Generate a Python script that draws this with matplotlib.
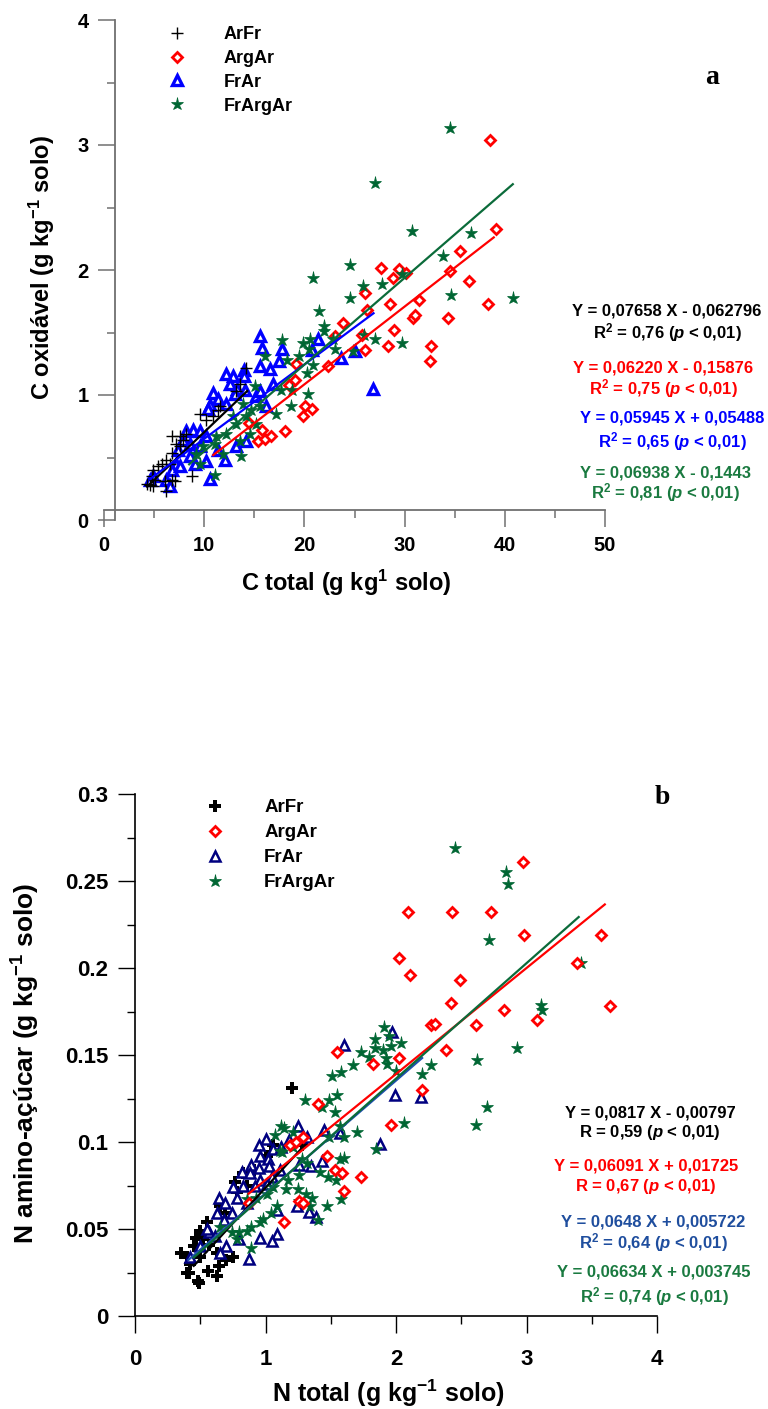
import matplotlib
matplotlib.use('Agg')
import numpy as np
import matplotlib.pyplot as plt
from matplotlib.ticker import MultipleLocator, FuncFormatter

plt.rcParams['font.family'] = ['Liberation Sans', 'DejaVu Sans']
plt.rcParams['font.weight'] = 'bold'
plt.rcParams['axes.labelweight'] = 'bold'
plt.rcParams['mathtext.fontset'] = 'custom'
plt.rcParams['mathtext.rm'] = 'Liberation Sans:bold'
plt.rcParams['mathtext.bf'] = 'Liberation Sans:bold'
plt.rcParams['mathtext.it'] = 'Liberation Sans:bold:italic'

grupos = ['ArFr', 'ArgAr', 'FrAr', 'FrArgAr']

# ---------------- painel a: C total x C oxidavel ----------------
a_arfr_x = [14.2, 13.6, 13.2, 11.4, 10.9, 10.2, 9.6, 11.6, 6.8, 7.6, 7.9, 8.2, 7.2, 6.8, 7.6,
            6.2, 5.8, 5.4, 4.9, 4.8, 5.1, 4.3, 4.6, 4.9, 6.1, 6.8, 7.1, 8.8, 6.2, 6.6]
a_arfr_y = [1.22, 1.09, 1.03, 0.88, 0.83, 0.80, 0.85, 0.91, 0.67, 0.67, 0.64, 0.69, 0.61, 0.54, 0.59,
            0.48, 0.45, 0.43, 0.40, 0.35, 0.32, 0.29, 0.28, 0.27, 0.31, 0.32, 0.31, 0.35, 0.23, 0.45]

a_argar_x = [27.6, 29.4, 28.8, 30.1, 35.5, 34.5, 36.4, 38.3, 31.4, 28.5, 30.8, 31.0, 34.3, 28.9, 28.3,
             32.6, 32.5, 26.0, 26.2, 26.0, 23.9, 23.1, 25.7, 22.4, 19.2, 19.1, 18.5, 20.1, 20.8, 19.9,
             18.1, 15.8, 15.4, 16.1, 16.7, 14.5, 38.5, 39.1]
a_argar_y = [2.02, 2.01, 1.94, 1.98, 2.15, 1.99, 1.91, 1.73, 1.76, 1.73, 1.62, 1.64, 1.62, 1.52, 1.39,
             1.39, 1.27, 1.82, 1.68, 1.36, 1.58, 1.47, 1.48, 1.23, 1.25, 1.12, 1.08, 0.91, 0.89, 0.83,
             0.71, 0.72, 0.63, 0.65, 0.67, 0.78, 3.04, 2.33]

a_frar_x = [15.6, 15.8, 17.8, 21.4, 20.8, 23.7, 25.0, 26.8, 15.6, 16.6, 17.5, 12.2, 12.9, 14.0, 14.0,
            12.6, 13.3, 13.1, 14.1, 10.9, 11.4, 10.6, 10.4, 12.2, 15.2, 15.6, 16.9, 16.2, 8.2, 8.9,
            9.6, 7.9, 7.4, 8.6, 9.6, 10.2, 8.6, 9.1, 7.2, 6.8, 6.2, 6.6, 4.9, 4.6, 7.6, 10.2, 10.6,
            13.2, 14.2, 12.1, 11.4]
a_frar_y = [1.47, 1.38, 1.37, 1.45, 1.36, 1.30, 1.35, 1.05, 1.23, 1.21, 1.27, 1.17, 1.15, 1.20, 1.15,
            1.09, 1.05, 1.01, 1.04, 1.02, 0.97, 0.92, 0.89, 0.93, 0.99, 1.03, 1.09, 0.91, 0.71, 0.72,
            0.71, 0.64, 0.56, 0.61, 0.59, 0.67, 0.51, 0.45, 0.45, 0.40, 0.32, 0.27, 0.35, 0.32, 0.43,
            0.47, 0.33, 0.59, 0.63, 0.48, 0.56]

a_frargar_x = [24.6, 20.9, 25.8, 27.7, 24.6, 33.8, 34.6, 40.8, 29.7, 21.5, 22.0, 22.0, 17.8, 16.1, 19.9,
               20.6, 20.5, 22.9, 23.1, 25.9, 27.0, 29.7, 24.9, 18.3, 19.5, 20.9, 20.3, 15.1, 17.7, 18.8,
               20.4, 18.7, 17.2, 13.9, 14.7, 15.6, 13.2, 14.2, 12.9, 15.2, 14.6, 13.6, 12.2, 11.2, 11.1,
               9.9, 9.2, 11.9, 13.7, 11.1, 9.6, 34.5, 27.0, 30.7, 36.6]
a_frargar_y = [2.04, 1.94, 1.87, 1.89, 1.78, 2.11, 1.80, 1.78, 1.97, 1.67, 1.55, 1.51, 1.44, 1.31, 1.42,
               1.45, 1.37, 1.45, 1.37, 1.48, 1.45, 1.42, 1.35, 1.28, 1.31, 1.24, 1.18, 1.07, 1.04, 1.04,
               1.01, 0.91, 0.85, 0.93, 0.88, 0.91, 0.77, 0.83, 0.83, 0.77, 0.69, 0.63, 0.69, 0.67, 0.61,
               0.59, 0.53, 0.53, 0.51, 0.36, 0.45, 3.14, 2.70, 2.31, 2.30]

# regressoes (inclinacao, intercepto, x inicial, x final)
a_coef = [0.07658, 0.06220, 0.05945, 0.06938]
a_inter = [-0.062796, -0.15876, 0.05488, -0.1443]
a_xini = [4.3, 10.9, 4.6, 8.5]
a_xfim = [14.3, 38.9, 26.9, 40.8]
a_eq = ['Y = 0,07658 X - 0,062796', 'Y = 0,06220 X - 0,15876',
        'Y = 0,05945 X + 0,05488', 'Y = 0,06938 X - 0,1443']
a_r = [r'R$^{\mathrm{2}}$ = 0,76 ($\mathit{p}$ < 0,01)', r'R$^{\mathrm{2}}$ = 0,75 ($\mathit{p}$ < 0,01)',
       r'R$^{\mathrm{2}}$ = 0,65 ($\mathit{p}$ < 0,01)', r'R$^{\mathrm{2}}$ = 0,81 ($\mathit{p}$ < 0,01)']

# ---------------- painel b: N total x N amino-acucar ----------------
b_arfr_x = [1.20, 1.28, 1.06, 1.04, 1.00, 0.91, 0.83, 0.77, 0.78, 0.86, 0.65, 0.69, 0.55, 0.47, 0.52,
            0.45, 0.57, 0.63, 0.50, 0.40, 0.41, 0.49, 0.56, 0.63, 0.70, 0.75, 0.64, 0.42, 0.35, 0.50,
            0.48, 0.40]
b_arfr_y = [0.131, 0.098, 0.098, 0.094, 0.092, 0.084, 0.082, 0.077, 0.071, 0.075, 0.063, 0.059, 0.054,
            0.045, 0.044, 0.040, 0.041, 0.036, 0.034, 0.034, 0.025, 0.019, 0.026, 0.023, 0.032, 0.034,
            0.029, 0.030, 0.036, 0.049, 0.020, 0.025]

b_argar_x = [2.42, 2.27, 2.30, 2.61, 2.83, 3.08, 2.38, 2.20, 1.55, 1.82, 2.02, 1.40, 1.96, 1.19, 1.23,
             1.29, 1.47, 1.53, 1.59, 1.73, 1.60, 1.26, 1.29, 1.14, 0.87, 2.97, 2.98, 2.73, 2.43, 2.09,
             2.02, 2.11, 2.49, 3.57, 3.64, 3.39]
b_argar_y = [0.180, 0.167, 0.168, 0.167, 0.176, 0.170, 0.153, 0.130, 0.152, 0.145, 0.148, 0.122, 0.110,
             0.098, 0.100, 0.103, 0.092, 0.084, 0.082, 0.080, 0.072, 0.066, 0.065, 0.054, 0.065, 0.261,
             0.219, 0.232, 0.232, 0.232, 0.206, 0.196, 0.193, 0.219, 0.178, 0.203]

b_frar_x = [1.60, 1.97, 1.99, 2.19, 1.88, 1.25, 1.32, 1.45, 1.57, 1.43, 1.00, 0.95, 1.06, 1.12, 1.18,
            0.96, 1.02, 0.89, 0.82, 0.88, 0.95, 1.03, 1.11, 1.05, 0.96, 0.83, 0.92, 1.01, 0.75, 0.78,
            0.86, 0.64, 0.69, 0.63, 0.74, 0.68, 0.57, 0.55, 0.61, 0.70, 0.80, 0.87, 0.96, 1.09, 1.05,
            1.09, 1.26, 1.24, 1.33, 1.39, 1.35, 0.65, 0.50, 0.42]
b_frar_y = [0.156, 0.163, 0.127, 0.126, 0.099, 0.109, 0.103, 0.107, 0.105, 0.089, 0.102, 0.098, 0.096,
            0.097, 0.101, 0.092, 0.090, 0.087, 0.083, 0.082, 0.085, 0.086, 0.084, 0.080, 0.078, 0.075,
            0.075, 0.076, 0.074, 0.068, 0.065, 0.068, 0.065, 0.059, 0.059, 0.055, 0.048, 0.050, 0.046,
            0.040, 0.044, 0.033, 0.045, 0.047, 0.043, 0.061, 0.087, 0.063, 0.060, 0.057, 0.086, 0.036,
            0.040, 0.034]

b_frargar_x = [3.12, 2.93, 2.62, 2.70, 2.61, 2.20, 2.27, 2.06, 1.91, 1.84, 1.95, 2.04, 1.90, 1.84, 1.96,
               1.73, 1.79, 1.92, 1.93, 2.00, 1.67, 1.58, 1.51, 1.30, 1.43, 1.49, 1.55, 1.53, 1.70, 1.57,
               1.60, 1.49, 1.85, 1.12, 1.07, 1.14, 1.21, 1.11, 1.13, 1.28, 1.32, 1.21, 1.60, 1.57, 1.42,
               1.48, 1.54, 1.58, 1.47, 1.40, 1.26, 1.17, 1.25, 1.31, 1.36, 1.26, 1.34, 1.16, 1.09, 1.04,
               0.98, 0.96, 0.89, 0.86, 0.80, 0.74, 0.65, 0.78, 0.89, 1.01, 1.06, 0.93, 0.86, 2.45, 2.84,
               2.86, 2.71, 3.42, 3.11]
b_frargar_y = [0.176, 0.154, 0.147, 0.120, 0.110, 0.139, 0.144, 0.111, 0.166, 0.159, 0.161, 0.157, 0.153,
               0.154, 0.155, 0.152, 0.149, 0.148, 0.145, 0.141, 0.144, 0.140, 0.138, 0.124, 0.120, 0.124,
               0.127, 0.117, 0.106, 0.109, 0.103, 0.103, 0.096, 0.109, 0.104, 0.108, 0.106, 0.095, 0.094,
               0.090, 0.088, 0.097, 0.091, 0.090, 0.083, 0.080, 0.078, 0.067, 0.063, 0.055, 0.081, 0.078,
               0.073, 0.070, 0.068, 0.066, 0.063, 0.073, 0.063, 0.059, 0.056, 0.054, 0.051, 0.049, 0.048,
               0.048, 0.051, 0.044, 0.039, 0.070, 0.074, 0.068, 0.067, 0.269, 0.255, 0.248, 0.216, 0.203,
               0.179]

b_coef = [0.0817, 0.06091, 0.0648, 0.06634]
b_inter = [-0.00797, 0.01725, 0.005722, 0.003745]
b_xini = [0.45, 0.87, 0.41, 0.45]
b_xfim = [1.29, 3.6, 2.2, 3.4]
b_eq = ['Y = 0,0817 X - 0,00797', 'Y = 0,06091 X + 0,01725',
        'Y = 0,0648 X + 0,005722', 'Y = 0,06634 X + 0,003745']
b_r = [r'R = 0,59 ($\mathit{p}$ < 0,01)', r'R = 0,67 ($\mathit{p}$ < 0,01)',
       r'R$^{\mathrm{2}}$ = 0,64 ($\mathit{p}$ < 0,01)', r'R$^{\mathrm{2}}$ = 0,74 ($\mathit{p}$ < 0,01)']

W, H = 768, 1409
fig = plt.figure(figsize=(W / 100, H / 100), dpi=100)


def fx(px):
    return px / W


def fy(py):
    return 1 - py / H


verde = '#006633'

# ---------- painel a ----------
ax1 = fig.add_axes([fx(104), fy(520), 501 / W, 500 / H])
cinza = '#707070'
estilos_a = [
    dict(marker='+', ms=9, mew=1.0, color='black'),
    dict(marker='D', ms=5.5, mew=2.0, mec='red', mfc='white', color='red'),
    dict(marker='^', ms=6.5, mew=2.4, mec='blue', mfc='white', color='blue'),
    dict(marker='*', ms=9.5, mew=0.5, mec=verde, mfc=verde, color=verde),
]
dados_a = [(a_arfr_x, a_arfr_y), (a_argar_x, a_argar_y), (a_frar_x, a_frar_y), (a_frargar_x, a_frargar_y)]
hs = [None] * 4
for i in [1, 2, 3, 0]:
    x, y = dados_a[i]
    hs[i], = ax1.plot(x, y, ls='none', label=grupos[i], **estilos_a[i])

cores_linha_a = ['black', 'red', 'blue', '#0b6b3a']
for i in range(4):
    xs = np.array([a_xini[i], a_xfim[i]])
    ax1.plot(xs, a_coef[i] * xs + a_inter[i], color=cores_linha_a[i], lw=1.6)

ax1.set_xlim(0, 50)
ax1.set_ylim(0, 4)
for s in ['top', 'right']:
    ax1.spines[s].set_visible(False)
ax1.spines['left'].set_position(('data', 1.1))
ax1.spines['bottom'].set_position(('data', 0.08))
for s in ['left', 'bottom']:
    ax1.spines[s].set_color(cinza)
    ax1.spines[s].set_linewidth(1.3)
ax1.xaxis.set_major_locator(MultipleLocator(10))
ax1.xaxis.set_minor_locator(MultipleLocator(5))
ax1.yaxis.set_major_locator(MultipleLocator(1))
ax1.yaxis.set_minor_locator(MultipleLocator(0.5))
ax1.tick_params(which='major', length=12, width=1.1, color=cinza, labelsize=14.5, pad=7)
ax1.tick_params(which='minor', length=6, width=1.1, color=cinza)
ax1.set_xlabel(r'C total (g kg$^{\mathrm{1}}$ solo)', fontsize=17, va='center')
ax1.set_ylabel(r'C oxidável (g kg$^{\mathrm{-1}}$ solo)', fontsize=17, va='center')
ax1.xaxis.set_label_coords(0.483, -0.126)
ax1.yaxis.set_label_coords(-0.124, 0.504)
ax1.legend(handles=hs, loc='upper left', bbox_to_anchor=(fx(168), fy(26)), bbox_transform=fig.transFigure,
           frameon=False, borderpad=0, borderaxespad=0, handlelength=1.0, handletextpad=2.1,
           labelspacing=0.38, prop={'weight': 'bold', 'size': 13})

fig.text(fx(712), fy(77), 'a', family='Liberation Serif', weight='bold', fontsize=20, ha='center', va='center')

cores_txt_a = ['black', 'red', 'blue', '#1a7a40']
pos_a = [(667, 311, 333), (663, 368, 389), (672, 418, 442), (665, 473, 493)]
for i in range(4):
    cx, y1, y2 = pos_a[i]
    fig.text(fx(cx), fy(y1), a_eq[i], color=cores_txt_a[i], fontsize=12, ha='center', va='center')
    fig.text(fx(cx), fy(y2), a_r[i], color=cores_txt_a[i], fontsize=12, ha='center', va='center')

# ---------- painel b ----------
ax2 = fig.add_axes([fx(135), fy(1316), 522 / W, 522 / H])
navy = '#000080'
estilos_b = [
    dict(marker='P', ms=8.5, mew=0, color='black'),
    dict(marker='D', ms=5.5, mew=2.0, mec='red', mfc='white', color='red'),
    dict(marker='^', ms=7, mew=1.8, mec=navy, mfc='white', color=navy),
    dict(marker='*', ms=9.5, mew=0.5, mec=verde, mfc=verde, color=verde),
]
dados_b = [(b_arfr_x, b_arfr_y), (b_argar_x, b_argar_y), (b_frar_x, b_frar_y), (b_frargar_x, b_frargar_y)]
hs2 = [None] * 4
for i in [0, 2, 3, 1]:
    x, y = dados_b[i]
    hs2[i], = ax2.plot(x, y, ls='none', label=grupos[i], **estilos_b[i])

cores_linha_b = ['black', 'red', '#1f4fb0', '#0b6b3a']
for i in range(4):
    xs = np.array([b_xini[i], b_xfim[i]])
    ax2.plot(xs, b_coef[i] * xs + b_inter[i], color=cores_linha_b[i], lw=1.6)

ax2.set_xlim(0, 4)
ax2.set_ylim(0, 0.3)
for s in ['top', 'right']:
    ax2.spines[s].set_visible(False)
for s in ['left', 'bottom']:
    ax2.spines[s].set_linewidth(1.2)
ax2.xaxis.set_major_locator(MultipleLocator(1))
ax2.xaxis.set_minor_locator(MultipleLocator(0.5))
ax2.yaxis.set_major_locator(MultipleLocator(0.05))
ax2.yaxis.set_minor_locator(MultipleLocator(0.025))
ax2.yaxis.set_major_formatter(FuncFormatter(lambda v, p: f'{v:g}'))
ax2.tick_params(which='major', length=12, width=1.0, labelsize=16, pad=7)
ax2.tick_params(which='minor', length=6, width=1.0)
ax2.tick_params(axis='x', which='major', pad=12)
ax2.set_xlabel(r'N total (g kg$^{\mathrm{-1}}$ solo)', fontsize=18, va='center')
ax2.set_ylabel(r'N amino-açúcar (g kg$^{\mathrm{-1}}$ solo)', fontsize=19, va='center')
ax2.xaxis.set_label_coords(0.485, -0.148)
ax2.yaxis.set_label_coords(-0.209, 0.483)
ax2.legend(handles=hs2, loc='upper left', bbox_to_anchor=(fx(206), fy(799)), bbox_transform=fig.transFigure,
           frameon=False, borderpad=0, borderaxespad=0, handlelength=1.0, handletextpad=2.1,
           labelspacing=0.42, prop={'weight': 'bold', 'size': 13.5})

fig.text(fx(662), fy(797), 'b', family='Liberation Serif', weight='bold', fontsize=20, ha='center', va='center')

cores_txt_b = ['black', 'red', '#1f4e9e', '#1a7a40']
pos_b = [(650, 1113, 1133), (646, 1166, 1186), (653, 1222, 1243), (654, 1272, 1297)]
for i in range(4):
    cx, y1, y2 = pos_b[i]
    fig.text(fx(cx), fy(y1), b_eq[i], color=cores_txt_b[i], fontsize=12, ha='center', va='center')
    fig.text(fx(cx), fy(y2), b_r[i], color=cores_txt_b[i], fontsize=12, ha='center', va='center')

# rotulos dos ticks em negrito
fig.canvas.draw()
for ax in [ax1, ax2]:
    for t in ax.get_xticklabels() + ax.get_yticklabels():
        t.set_fontweight('bold')

fig.savefig('out.png', dpi=100)
